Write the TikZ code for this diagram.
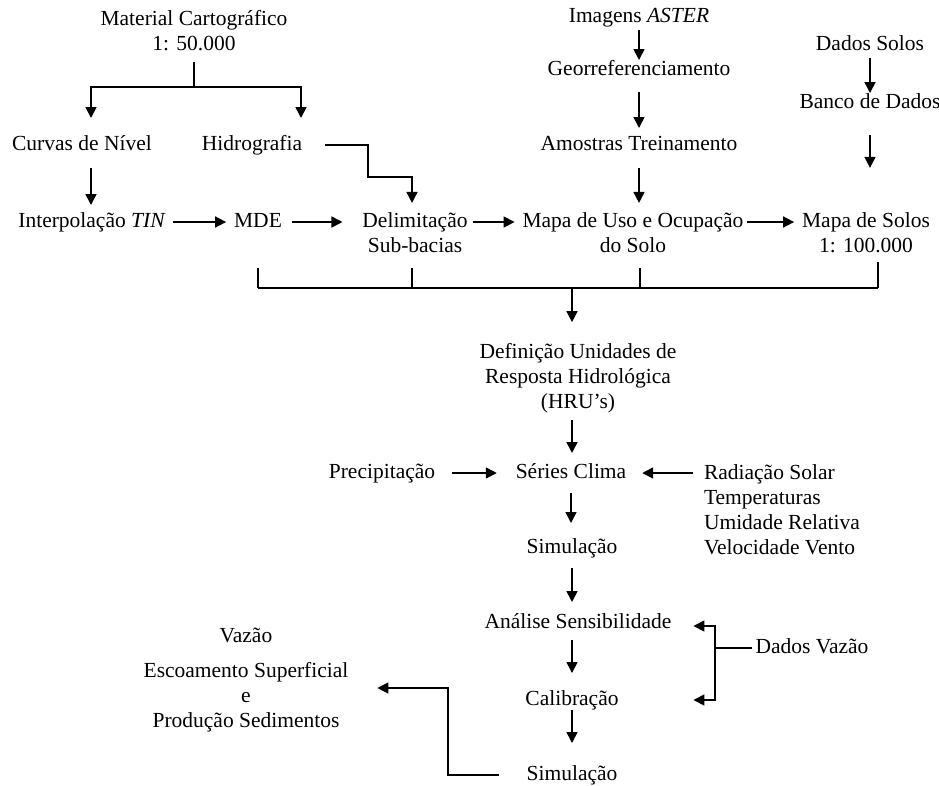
\documentclass[tikz,border=0pt]{standalone}
\usepackage{fontspec}
\setmainfont{Liberation Serif}
\usetikzlibrary{arrows.meta,calc}
\begin{document}
\begin{tikzpicture}[x=1pt,y=-1pt,
  every node/.style={font=\fontsize{21.5}{25}\selectfont, inner sep=0pt, outer sep=0pt, align=center},
  one/.style={text height=15pt,text depth=5pt},
  ln/.style={line width=1.6pt},
  arr/.style={ln,-{Triangle[length=11pt,width=11pt]}}]
\useasboundingbox[fill=white] (0,0) rectangle (939,785);

% ---- nodes ----
\node (mat) at (194,30.5) {Material Cartográfico\\1: 50.000};
\node[one] (curvas) at (82,145) {Curvas de Nível};
\node[one] (hidro) at (252,145) {Hidrografia};
\node[one] (interp) at (92,222) {Interpolação \textit{TIN}};
\node[one] (mde) at (258,222) {MDE};
\node (delim) at (415,233) {Delimitação\\Sub-bacias};
\node (mapauso) at (633,233) {Mapa de Uso e Ocupação\\do Solo};
\node (mapasolos) at (866,233) {Mapa de Solos\\1: 100.000};
\node[one] (aster) at (639,17) {Imagens \textit{ASTER}};
\node[one] (geo) at (639,70) {Georreferenciamento};
\node[one] (amostras) at (639,145) {Amostras Treinamento};
\node[one] (dsolos) at (870,45) {Dados Solos};
\node[one] (banco) at (870,103) {Banco de Dados};
\node (hru) at (578,378) {Definição Unidades de\\Resposta Hidrológica\\(HRU’s)};
\node[one] (series) at (571,473) {Séries Clima};
\node[one] (precip) at (382,473) {Precipitação};
\node[anchor=west, align=left] (clima) at (704,510) {Radiação Solar\\Temperaturas\\Umidade Relativa\\Velocidade Vento};
\node[one] (sim1) at (572,548) {Simulação};
\node[one] (analise) at (578,623) {Análise Sensibilidade};
\node[one] (calib) at (572,700) {Calibração};
\node[one] (sim2) at (572,775) {Simulação};
\node[one] (dvazao) at (812,648) {Dados Vazão};
\node (out) at (246,680.5) {Vazão\\[10pt]Escoamento Superficial\\e\\Produção Sedimentos};

% ---- junctions ----
\coordinate (j1) at (194,87);
\coordinate (k1) at (368,177);
\coordinate (j2) at (572,288);
\coordinate (j3) at (715,648);
\coordinate (k3) at (448,688);

% ---- connectors ----
\draw[ln, shorten <=11pt] (mat.south) -- (j1);
\draw[arr, shorten >=17pt] (j1) -| ([xshift=9pt]curvas.north);
\draw[arr, shorten >=17pt] (j1) -| ([xshift=49pt]hidro.north);
\draw[arr, shorten <=23pt, shorten >=10pt] (hidro.east) -| (k1) -| ([xshift=-3pt]delim.north);
\draw[arr, shorten <=13pt, shorten >=7pt] ([xshift=9pt]curvas.south) -- ([xshift=9pt]curvas.south |- interp.north);
\draw[arr, shorten <=7pt, shorten >=8pt] (interp.east) -- (mde.west);
\draw[arr, shorten <=10pt, shorten >=20pt] (mde.east) -- (delim.west |- mde);
\draw[arr, shorten <=5pt, shorten >=8pt] (delim.east |- mde) -- (mapauso.west |- mde);
\draw[arr, shorten <=4pt, shorten >=8pt] (mapauso.east |- mde) -- (mapasolos.west |- mde);

\draw[arr, shorten <=3pt] (aster.south) -- (geo.north);
\draw[arr, shorten <=12pt, shorten >=7pt] (geo.south) -- (amostras.north);
\draw[arr, shorten <=13pt, shorten >=10pt] (amostras.south) -- (amostras.south |- mapauso.north);
\draw[arr, shorten <=3pt] (dsolos.south) -- (banco.north);
\draw[arr, shorten <=22pt, shorten >=45pt] (banco.south) -- (banco.south |- mapasolos.north);

\draw[ln] (mde |- j2) -- ++(0,-20);
\draw[ln] ($(delim |- j2)+(-3,0)$) -- ++(0,-20);
\draw[ln] ($(mapauso |- j2)+(7,0)$) -- ++(0,-20);
\draw[ln] ($(mapasolos |- j2)+(12,0)$) -- ++(0,-26);
\draw[ln] (mde |- j2) -- ($(mapasolos |- j2)+(12,0)$);
\draw[arr, shorten >=21pt] (j2) -- (j2 |- hru.north);

\draw[arr, shorten <=7pt, shorten >=10pt] (j2 |- hru.south) -- (j2 |- series.north);
\draw[arr, shorten <=17pt, shorten >=19pt] (precip.east) -- (series.west);
\draw[arr, shorten <=11pt, shorten >=16pt] (clima.west |- series) -- (series.east);
\draw[arr, shorten <=10pt, shorten >=15pt] (series.south) -- (series.south |- sim1.north);
\draw[arr, shorten <=10pt, shorten >=11pt] (sim1.south) -- (sim1.south |- analise.north);
\draw[arr, shorten <=7pt, shorten >=17pt] (calib |- analise.south) -- (calib.north);
\draw[arr, shorten >=22pt] (calib.south) -- (sim2.north);

\draw[ln, shorten <=4pt] (dvazao.west) -- (j3);
\draw[arr, shorten >=22pt] (j3) |- ($(analise.east)+(0,3)$);
\draw[arr, shorten >=22pt] (j3) |- ($(analise.east |- calib.east)$);

\draw[arr, shorten <=28pt, shorten >=29pt] (sim2.west) -| (k3) -- (out.east |- k3);
\end{tikzpicture}
\end{document}
